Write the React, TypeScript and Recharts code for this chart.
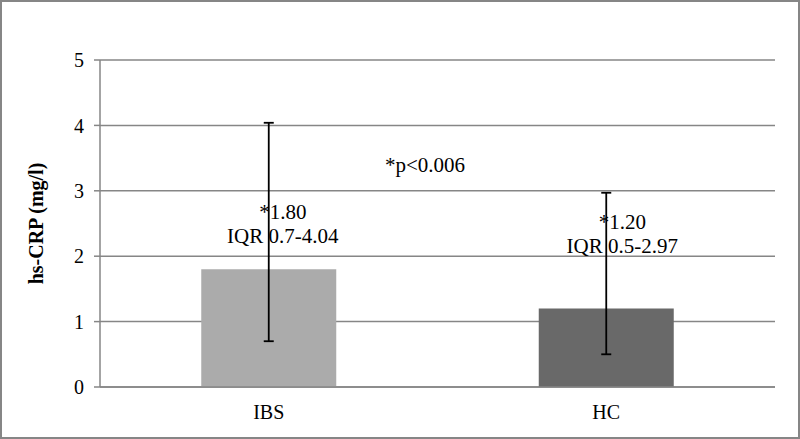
import { Bar, BarChart, CartesianGrid, Cell, ErrorBar, LabelList, XAxis, YAxis } from "recharts";

const groups = ["IBS", "HC"];
const medians = [1.8, 1.2];
const iqrLow = [0.7, 0.5];
const iqrHigh = [4.04, 2.97];
const yTicks = [0, 1, 2, 3, 4, 5];
const pValueText = "*p<0.006";

const COLORS = ["#ababab", "#696969"];
const FONT = "'Liberation Serif', 'Times New Roman', serif";

// where the median/IQR text sits (data units for the first line, px offset from bar centre)
const ANNOT_LEVEL = [2.67, 2.52];
const ANNOT_DX = [14, 16];

const data = groups.map((name, i) => ({
  name,
  value: medians[i],
  err: [medians[i] - iqrLow[i], iqrHigh[i] - medians[i]],
  low: iqrLow[i],
  high: iqrHigh[i],
}));

const renderAnnot = (props: any) => {
  const { x, y, width, height, index } = props;
  const d = data[index];
  const bottom = y + height;
  const pxPerUnit = height / d.value;
  const cx = x + width / 2 + ANNOT_DX[index];
  const cy = bottom - ANNOT_LEVEL[index] * pxPerUnit;
  return (
    <g>
      <text x={cx} y={cy} textAnchor="middle" dominantBaseline="central" fontSize={21} fontFamily={FONT} fill="#000">
        {`*${d.value.toFixed(2)}`}
      </text>
      <text x={cx} y={cy + 24} textAnchor="middle" dominantBaseline="central" fontSize={21} fontFamily={FONT} fill="#000">
        {`IQR ${d.low}-${d.high.toFixed(2)}`}
      </text>
    </g>
  );
};

export default function App() {
  return (
    <div style={{ position: "absolute", left: 0, top: 0, width: 800, height: 439, background: "#fff" }}>
      <BarChart
        width={800}
        height={439}
        data={data}
        margin={{ top: 60, right: 25, bottom: 22, left: 0 }}
        barCategoryGap="30%"
      >
        <CartesianGrid vertical={false} stroke="#868686" strokeWidth={1.5} />
        <XAxis
          dataKey="name"
          axisLine={{ stroke: "#868686", strokeWidth: 1.5 }}
          tickLine={false}
          tickMargin={12}
          height={30}
          tick={{ fill: "#000", fontSize: 20, fontFamily: FONT }}
        />
        <YAxis
          domain={[0, 5]}
          ticks={yTicks}
          width={100}
          axisLine={{ stroke: "#868686", strokeWidth: 1.5 }}
          tickLine={{ stroke: "#868686", strokeWidth: 1.5 }}
          tickSize={6}
          tickMargin={10}
          tick={{ fill: "#000", fontSize: 20, fontFamily: FONT }}
          label={{
            value: "hs-CRP (mg/l)",
            angle: -90,
            position: "insideLeft",
            offset: 36,
            style: { textAnchor: "middle", fontSize: 20, fontWeight: "bold", fontFamily: FONT, fill: "#000" },
          }}
        />
        <Bar dataKey="value" isAnimationActive={false}>
          {data.map((entry, index) => (
            <Cell key={`cell-${index}`} fill={COLORS[index % COLORS.length]} />
          ))}
          <ErrorBar dataKey="err" direction="y" width={5} stroke="#000" strokeWidth={1.8} />
          <LabelList dataKey="value" content={renderAnnot} />
        </Bar>
      </BarChart>
      <div
        style={{
          position: "absolute",
          left: 425,
          top: 165,
          transform: "translate(-50%, -50%)",
          fontFamily: FONT,
          fontSize: 21,
          color: "#000",
          whiteSpace: "nowrap",
        }}
      >
        {pValueText}
      </div>
      <div
        style={{
          position: "absolute",
          inset: 0,
          border: "2px solid #868686",
          boxSizing: "border-box",
          pointerEvents: "none",
        }}
      />
    </div>
  );
}
